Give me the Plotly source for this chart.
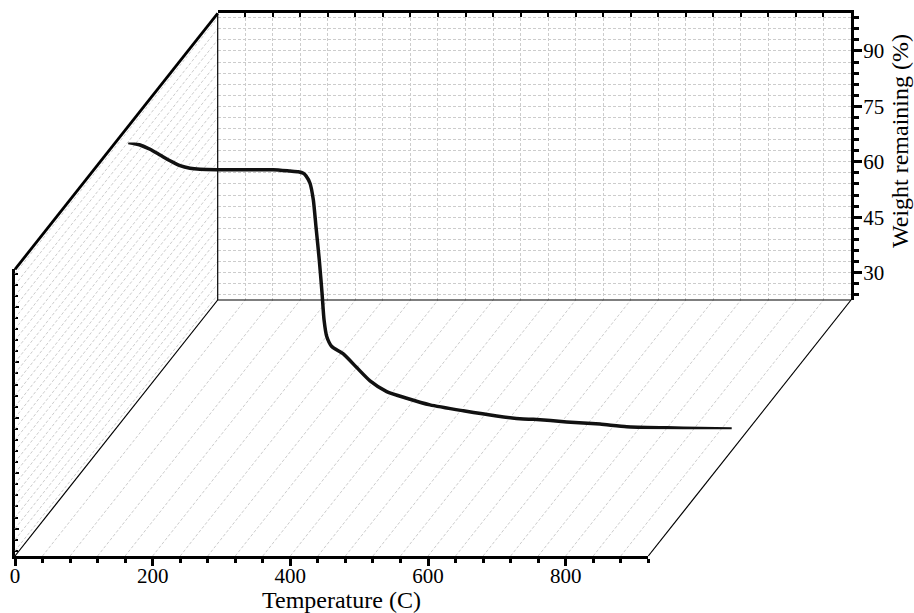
import plotly.graph_objects as go

# ---- data: TGA curve ----
temp_c = [18.9, 35.9, 50.4, 64.9, 79.5, 94.0, 108.5, 123.0, 147.3, 195.7, 229.5,
          253.8, 265.8, 273.1, 277.0, 282.8, 287.6, 291.5, 296.3, 300.3, 303.2,
          307.1, 314.4, 331.2, 350.7, 370.0, 394.2, 423.3, 457.1, 505.5, 554.0,
          592.7, 607.2, 655.7, 704.1, 742.9, 801.0, 849.4, 895.4]
weight_pct = [100.2, 99.54, 98.38, 96.84, 95.29, 93.94, 93.24, 92.97, 92.86, 92.86,
              92.86, 92.5, 92.3, 91.9, 91.2, 89.2, 84.7, 77.4, 68.4, 59.4, 52.2,
              47.7, 45.0, 43.0, 39.3, 35.7, 32.8, 31.0, 29.2, 27.6, 26.2, 25.4,
              25.3, 24.6, 24.0, 23.3, 23.0, 22.8, 22.7]

temp_range = [0, 920]
weight_range = [22.6, 100.2]
temp_major, temp_minor = 200, 40
weight_major, weight_minor = 15, 3

# ---- pseudo-3D box geometry (pixels) ----
W, H = 914, 613
FX0, FX1 = 15.0, 648.3        # front face left/right
FYB, FYT = 556.0, 269.3       # front face bottom/top
DX, DY = 202.7, -256.0        # shift from front face to back wall
CURVE_DEPTH = 0.495           # curve plane between front and back

FONT = "Liberation Serif"
GRID = "#cccccc"
GRID_DASH = "3px,2px"


def dom_x(a, b):
    return [a / W, b / W]


def dom_y(bottom, top):
    return [(H - bottom) / H, (H - top) / H]


def proj(t, w, depth):
    """Oblique projection of (temperature, weight, depth) to pixel coords."""
    fx = FX0 + (t - temp_range[0]) / (temp_range[1] - temp_range[0]) * (FX1 - FX0)
    fy = FYB - (w - weight_range[0]) / (weight_range[1] - weight_range[0]) * (FYB - FYT)
    return fx + depth * DX, fy + depth * DY


def frange(start, stop, step):
    out, v = [], start
    while v <= stop + 1e-9:
        out.append(v)
        v += step
    return out


fig = go.Figure()

# invisible anchors so the front and back axis frames are rendered
for xa, ya in (("x", "y"), ("x2", "y2")):
    fig.add_trace(go.Scatter(x=temp_range, y=weight_range, mode="markers",
                             marker=dict(opacity=0), xaxis=xa, yaxis=ya,
                             hoverinfo="skip", showlegend=False))

# ---- floor and left-wall guide lines (pixel overlay axes x3/y3) ----
gx, gy = [], []
for t in frange(0, temp_range[1], temp_minor):
    a, b = proj(t, weight_range[0], 0), proj(t, weight_range[0], 1)
    gx += [a[0], b[0], None]
    gy += [a[1], b[1], None]
w0 = weight_range[0] - weight_range[0] % weight_minor + weight_minor
for w in frange(w0, weight_range[1], weight_minor):
    a, b = proj(temp_range[0], w, 0), proj(temp_range[0], w, 1)
    gx += [a[0], b[0], None]
    gy += [a[1], b[1], None]
fig.add_trace(go.Scatter(x=gx, y=gy, mode="lines", xaxis="x3", yaxis="y3",
                         line=dict(color=GRID, width=1, dash=GRID_DASH),
                         hoverinfo="skip", showlegend=False))

# thin box edges
edges = [
    [(temp_range[0], weight_range[0], 0), (temp_range[0], weight_range[0], 1)],
    [(temp_range[1], weight_range[0], 0), (temp_range[1], weight_range[0], 1)],
    [(temp_range[0], weight_range[0], 1), (temp_range[1], weight_range[0], 1)],
    [(temp_range[0], weight_range[0], 1), (temp_range[0], weight_range[1], 1)],
]
ex, ey = [], []
for p, q in edges:
    a, b = proj(*p), proj(*q)
    ex += [a[0], b[0], None]
    ey += [a[1], b[1], None]
fig.add_trace(go.Scatter(x=ex, y=ey, mode="lines", xaxis="x3", yaxis="y3",
                         line=dict(color="black", width=1.2),
                         hoverinfo="skip", showlegend=False))

# thick top-left edge of the side wall
a, b = proj(temp_range[0], weight_range[1], 0), proj(temp_range[0], weight_range[1], 1)
fig.add_trace(go.Scatter(x=[a[0], b[0]], y=[a[1], b[1]], mode="lines",
                         xaxis="x3", yaxis="y3",
                         line=dict(color="black", width=2.8),
                         hoverinfo="skip", showlegend=False))

# ---- the curve, in its own axes placed at mid depth ----
fig.add_trace(go.Scatter(x=temp_c, y=weight_pct, mode="lines", xaxis="x4", yaxis="y4",
                         line=dict(color="#111111", width=3.5, shape="spline",
                                   smoothing=0.6),
                         hoverinfo="skip", showlegend=False))

tickfont = dict(family=FONT, size=21, color="black")

fig.update_layout(
    width=W, height=H,
    margin=dict(l=0, r=0, t=0, b=0, pad=0, autoexpand=False),
    paper_bgcolor="white", plot_bgcolor="rgba(0,0,0,0)",
    font=dict(family=FONT, color="black"),
    showlegend=False,
    # front temperature axis
    xaxis=dict(domain=dom_x(FX0, FX1), anchor="y", range=temp_range,
               showgrid=False, zeroline=False, showline=True, linecolor="black",
               linewidth=3, ticks="outside", ticklen=7, tickwidth=2.5,
               tickcolor="black", dtick=temp_major, tick0=0,
               minor=dict(dtick=temp_minor, ticks="outside", ticklen=4,
                          tickwidth=2.5, tickcolor="black", showgrid=False),
               tickfont=tickfont, ticklabelstandoff=-8, fixedrange=True),
    # front weight axis (no labels)
    yaxis=dict(domain=dom_y(FYB, FYT), anchor="x", range=weight_range,
               showgrid=False, zeroline=False, showline=True, linecolor="black",
               linewidth=3, ticks="inside", ticklen=4, tickwidth=2,
               tickcolor="black", dtick=weight_major, tick0=0,
               minor=dict(dtick=weight_minor, ticks="inside", ticklen=3,
                          tickwidth=2, tickcolor="black", showgrid=False),
               showticklabels=False, fixedrange=True),
    # back wall: top temperature axis with grid
    xaxis2=dict(domain=dom_x(FX0 + DX, FX1 + DX), anchor="y2", side="top",
                range=temp_range, showgrid=True, gridcolor=GRID, griddash=GRID_DASH,
                gridwidth=1, zeroline=False, showline=True, linecolor="black",
                linewidth=3, ticks="inside", ticklen=4, tickwidth=2,
                tickcolor="black", dtick=temp_major, tick0=0,
                minor=dict(dtick=temp_minor, ticks="inside", ticklen=4,
                           tickwidth=2, tickcolor="black", showgrid=True,
                           gridcolor=GRID, griddash=GRID_DASH, gridwidth=1),
                showticklabels=False, fixedrange=True),
    # back wall: right weight axis with labels and grid
    yaxis2=dict(domain=dom_y(FYB + DY, FYT + DY), anchor="x2", side="right",
                range=weight_range, showgrid=True, gridcolor=GRID, griddash=GRID_DASH,
                gridwidth=1, zeroline=False, showline=True, linecolor="black",
                linewidth=3, ticks="outside", ticklen=8, tickwidth=2.5,
                tickcolor="black", dtick=weight_major, tick0=0,
                minor=dict(dtick=weight_minor, ticks="outside", ticklen=5,
                           tickwidth=2.5, tickcolor="black", showgrid=True,
                           gridcolor=GRID, griddash=GRID_DASH, gridwidth=1),
                tickfont=tickfont, ticklabelstandoff=-3, fixedrange=True),
    # pixel overlay for the oblique guide lines
    xaxis3=dict(domain=[0, 1], anchor="y3", range=[0, W], visible=False,
                fixedrange=True),
    yaxis3=dict(domain=[0, 1], anchor="x3", range=[H, 0], visible=False,
                fixedrange=True),
    # curve plane
    xaxis4=dict(domain=dom_x(FX0 + CURVE_DEPTH * DX, FX1 + CURVE_DEPTH * DX),
                anchor="y4", range=temp_range, visible=False, fixedrange=True),
    yaxis4=dict(domain=dom_y(FYB + CURVE_DEPTH * DY, FYT + CURVE_DEPTH * DY),
                anchor="x4", range=weight_range, visible=False, fixedrange=True),
    annotations=[
        dict(text="Temperature (C)", x=341 / W, y=(H - 600) / H,
             xref="paper", yref="paper", showarrow=False,
             xanchor="center", yanchor="middle",
             font=dict(family=FONT, size=24, color="black")),
        dict(text="Weight remaining (%)", x=900 / W, y=(H - 141) / H,
             xref="paper", yref="paper", showarrow=False, textangle=-90,
             xanchor="center", yanchor="middle",
             font=dict(family=FONT, size=24, color="black")),
    ],
)

fig.write_html("out.html")
